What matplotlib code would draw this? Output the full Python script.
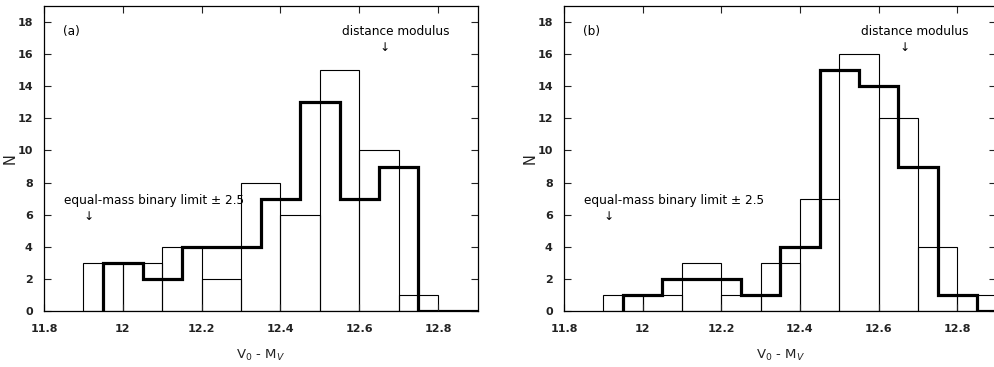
import numpy as np
import matplotlib.pyplot as plt

# bin edges (thin histogram on 0.1 grid, thick one shifted by half a bin)
edges_thin = [11.9, 12.0, 12.1, 12.2, 12.3, 12.4, 12.5, 12.6, 12.7, 12.8, 12.9]
edges_thick = [11.95, 12.05, 12.15, 12.25, 12.35, 12.45, 12.55, 12.65, 12.75, 12.85, 12.95]

# panel (a)
thin_a = [3, 3, 4, 2, 8, 6, 15, 10, 1, 0]
thick_a = [3, 2, 4, 4, 7, 13, 7, 9, 0, 0]

# panel (b)
thin_b = [1, 1, 3, 1, 3, 7, 16, 12, 4, 1]
thick_b = [1, 2, 2, 1, 4, 15, 14, 9, 1, 0]

xticks = [11.8, 12.0, 12.2, 12.4, 12.6, 12.8]
xticklabels = ['11.8', '12', '12.2', '12.4', '12.6', '12.8']
yticks = [0, 2, 4, 6, 8, 10, 12, 14, 16, 18]

dist_mod = 12.665
binary_lim = 11.913

plt.rcParams['font.family'] = 'DejaVu Sans'

fig = plt.figure(figsize=(9.95, 3.67), dpi=100)
ax_a = fig.add_axes([0.0442, 0.1526, 0.4357, 0.831])
ax_b = fig.add_axes([0.5668, 0.1526, 0.4347, 0.831])


def panel(ax, thin, thick, tag):
    widths = np.diff(edges_thin)
    ax.bar(edges_thin[:-1], thin, width=widths, align='edge', fill=False,
           edgecolor='black', linewidth=0.8)
    ax.stairs(thick, edges_thick, baseline=0, color='black', linewidth=2.3)

    ax.set_xlim(11.8, 12.9)
    ax.set_ylim(0, 19)
    ax.set_xticks(xticks)
    ax.set_xticklabels(xticklabels, fontweight='bold')
    ax.set_yticks(yticks)
    ax.set_yticklabels([str(t) for t in yticks], fontweight='bold')
    ax.tick_params(direction='in', top=True, right=True, length=5,
                   width=0.8, labelsize=8, colors='#222222')
    ax.tick_params(axis='x', pad=9.5)
    ax.tick_params(axis='y', pad=8)
    for s in ax.spines.values():
        s.set_linewidth(0.9)

    ax.set_xlabel('V$_0$ - M$_V$', fontsize=9.5, labelpad=10, color='#222222')
    ax.set_ylabel('N', fontsize=10.5, labelpad=0, color='#222222')

    fs = 8.7
    ax.text(11.848, 17.4, tag, fontsize=fs, ha='left', va='center')
    ax.text(12.692, 17.4, 'distance modulus', fontsize=fs, ha='center', va='center')
    ax.text(dist_mod, 16.4, '↓', fontsize=fs, ha='center', va='center')
    ax.text(11.851, 6.9, 'equal-mass binary limit ± 2.5', fontsize=fs,
            ha='left', va='center')
    ax.text(binary_lim, 5.9, '↓', fontsize=fs, ha='center', va='center')


panel(ax_a, thin_a, thick_a, '(a)')
panel(ax_b, thin_b, thick_b, '(b)')

fig.savefig('out.png', dpi=100)
